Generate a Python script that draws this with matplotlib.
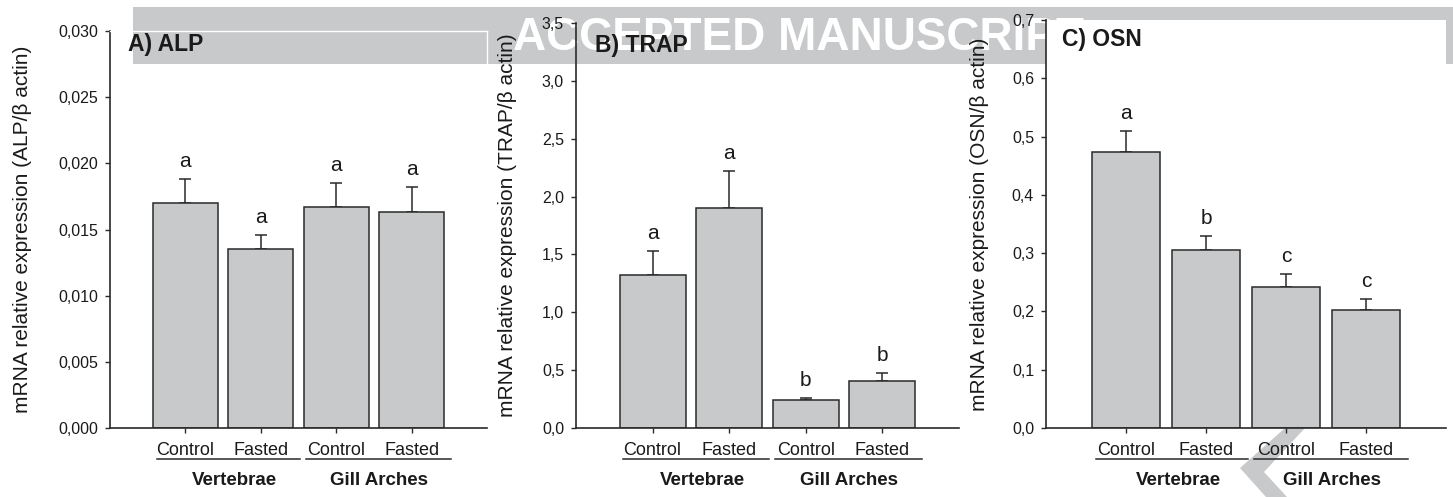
import matplotlib
matplotlib.use("Agg")
import matplotlib.pyplot as plt
import numpy as np
from matplotlib.transforms import offset_copy
from matplotlib.patches import Rectangle, Polygon
from matplotlib.ticker import FuncFormatter

plt.rcParams['font.family'] = ['Liberation Sans', 'DejaVu Sans']

# ---------------- data ----------------
groups = ["Control", "Fasted", "Control", "Fasted"]
tissues = ["Vertebrae", "Gill Arches"]

alp_mean = [0.0170, 0.0135, 0.0167, 0.0163]
alp_sem = [0.0018, 0.0011, 0.0018, 0.0019]
alp_letters = ["a", "a", "a", "a"]

trap_mean = [1.32, 1.90, 0.24, 0.41]
trap_sem = [0.21, 0.32, 0.016, 0.066]
trap_letters = ["a", "a", "b", "b"]

osn_mean = [0.473, 0.305, 0.242, 0.203]
osn_sem = [0.036, 0.025, 0.022, 0.019]
osn_letters = ["a", "b", "c", "c"]

# ---------------- style ----------------
W, H = 1453, 497
BAR = "#c8c9cb"
EDGE = "#2a2a2a"
TXT = "#1a1a1a"
BANNER = "#c8c9cb"

fig = plt.figure(figsize=(W / 100, H / 100), dpi=100)


def rect(l, r, t, b):
    return [l / W, 1 - b / H, (r - l) / W, (b - t) / H]


# watermark banner
fig.patches.append(Rectangle((133 / W, 1 - 64 / H), (W - 133) / W, 57 / H,
                             transform=fig.transFigure, facecolor=BANNER,
                             edgecolor='none', zorder=-3))
fig.text(513 / W, 1 - 50 / H, "ACCEPTED MANUSCRIPT", color="white",
         fontsize=33, fontweight="bold", ha="left", va="baseline", zorder=-2)
chev = [(1285, 428), (1305, 428), (1264, 472), (1287, 497), (1266, 497), (1240, 468)]
fig.patches.append(Polygon([(x / W, 1 - y / H) for x, y in chev], closed=True,
                           transform=fig.transFigure, facecolor=BANNER,
                           edgecolor='none', zorder=-3))

panels = [
    dict(box=(110, 487, 31, 428), mean=alp_mean, sem=alp_sem, letters=alp_letters,
         top=0.030, step=0.005, dec=3, ylabel="mRNA relative expression (ALP/\u03b2 actin)",
         title="A) ALP", toff=(18, 20), labx=-0.207, white=False, frame=True),
    dict(box=(576, 959, 23, 428), mean=trap_mean, sem=trap_sem, letters=trap_letters,
         top=3.5, step=0.5, dec=1, ylabel="mRNA relative expression (TRAP/\u03b2 actin)",
         title="B) TRAP", toff=(19, 29), labx=-0.154, white=False, frame=False),
    dict(box=(1046, 1446, 20, 428), mean=osn_mean, sem=osn_sem, letters=osn_letters,
         top=0.7, step=0.1, dec=1, ylabel="mRNA relative expression (OSN/\u03b2 actin)",
         title="C) OSN", toff=(16, 26), labx=-0.1425, white=True, frame=False),
]

for p in panels:
    ax = fig.add_axes(rect(*p["box"]))
    if p["white"]:
        ax.set_facecolor("white")
    else:
        ax.patch.set_alpha(0)
    x = np.arange(1, len(groups) + 1)
    ax.bar(x, p["mean"], width=0.86, color=BAR, edgecolor=EDGE, linewidth=1.1, zorder=2)
    ax.errorbar(x, p["mean"], yerr=[np.zeros(len(x)), p["sem"]], fmt="none",
                ecolor=EDGE, elinewidth=1.1, capsize=4.2, capthick=1.1, zorder=1)
    for xi, m, s, lt in zip(x, p["mean"], p["sem"], p["letters"]):
        ax.annotate(lt, (xi, m + s), xytext=(0, 12), textcoords="offset pixels",
                    ha="center", va="baseline", fontsize=15, color=TXT)
    ax.set_xlim(0, 5)
    ax.set_ylim(0, p["top"])
    ax.set_yticks(np.arange(0, p["top"] + p["step"] / 2, p["step"]))
    dec = p["dec"]
    ax.yaxis.set_major_formatter(FuncFormatter(lambda v, pos, d=dec: f"{v:.{d}f}".replace(".", ",")))
    ax.set_xticks(x)
    ax.set_xticklabels([])
    ax.tick_params(axis="both", direction="out", length=3.6, width=1.0, color=EDGE,
                   labelsize=11.5, labelcolor=TXT)
    ax.tick_params(axis="y", pad=5)
    for s in ["left", "bottom"]:
        ax.spines[s].set_color(EDGE)
        ax.spines[s].set_linewidth(1.2)
    if p["frame"]:
        for s in ["top", "right"]:
            ax.spines[s].set_color("white")
            ax.spines[s].set_linewidth(1.0)
    else:
        ax.spines["top"].set_visible(False)
        ax.spines["right"].set_visible(False)

    ax.set_ylabel(p["ylabel"], fontsize=15, color=TXT)
    ax.yaxis.set_label_coords(p["labx"], 0.5)

    # title
    ttr = offset_copy(ax.transAxes, fig=fig, x=p["toff"][0], y=-p["toff"][1], units="dots")
    ax.text(0, 1, p["title"], transform=ttr, ha="left", va="baseline",
            fontsize=16.5, fontweight="bold", color=TXT)

    # group labels
    base = ax.get_xaxis_transform()
    tr1 = offset_copy(base, fig=fig, y=-27, units="dots")
    for xi, g in zip(x, groups):
        ax.text(xi, 0, g, transform=tr1, ha="center", va="baseline", fontsize=13,
                color=TXT, clip_on=False)
    tr2 = offset_copy(base, fig=fig, y=-31, units="dots")
    ax.plot([0.62, 2.52], [0, 0], transform=tr2, color=EDGE, lw=1.1, clip_on=False)
    ax.plot([2.6, 4.52], [0, 0], transform=tr2, color=EDGE, lw=1.1, clip_on=False)
    tr3 = offset_copy(base, fig=fig, y=-57, units="dots")
    for xc, t in zip([1.65, 3.57], tissues):
        ax.text(xc, 0, t, transform=tr3, ha="center", va="baseline", fontsize=13.5,
                fontweight="bold", color=TXT, clip_on=False)

fig.savefig("out.png", dpi=100)
